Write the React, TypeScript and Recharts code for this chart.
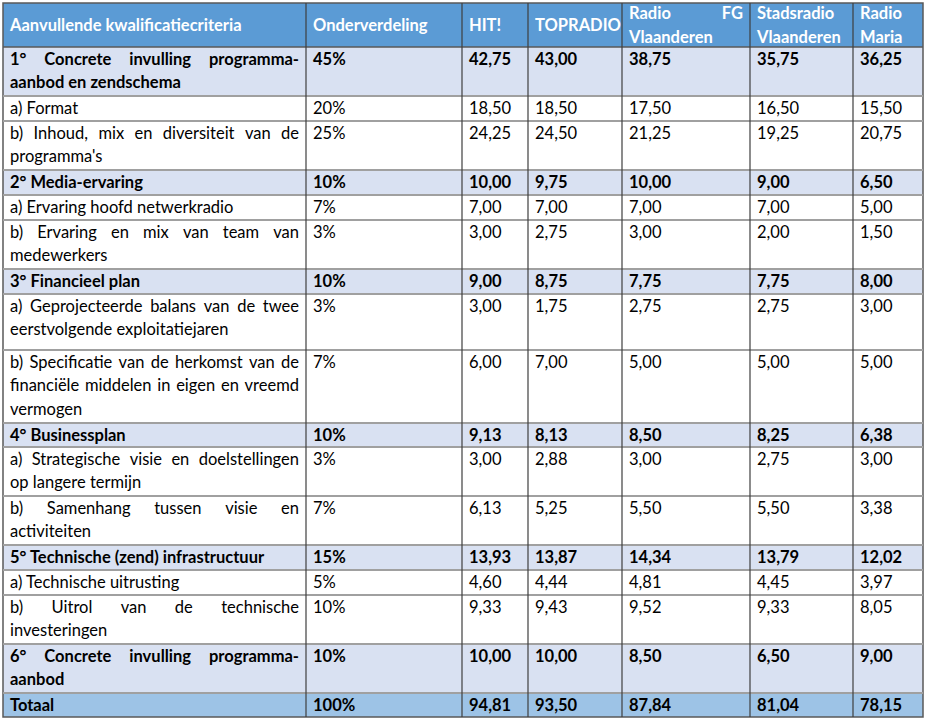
import { ComposedChart, XAxis, YAxis, ReferenceArea, ReferenceLine } from "recharts";

const headers = [
  "Aanvullende kwalificatiecriteria",
  "Onderverdeling",
  "HIT!",
  "TOPRADIO",
  "Radio FG\nVlaanderen",
  "Stadsradio\nVlaanderen",
  "Radio\nMaria",
];

const criteria = [
  "1° Concrete invulling programma-\naanbod en zendschema",
  "a) Format",
  "b) Inhoud, mix en diversiteit van de\nprogramma's",
  "2° Media-ervaring",
  "a) Ervaring hoofd netwerkradio",
  "b) Ervaring en mix van team van\nmedewerkers",
  "3° Financieel plan",
  "a) Geprojecteerde balans van de twee\neerstvolgende exploitatiejaren",
  "b) Specificatie van de herkomst van de\nfinanciële middelen in eigen en vreemd\nvermogen",
  "4° Businessplan",
  "a) Strategische visie en doelstellingen\nop langere termijn",
  "b) Samenhang tussen visie en\nactiviteiten",
  "5° Technische (zend) infrastructuur",
  "a) Technische uitrusting",
  "b) Uitrol van de technische\ninvesteringen",
  "6° Concrete invulling programma-\naanbod",
  "Totaal",
];

const levels = [
  "section", "item", "item",
  "section", "item", "item",
  "section", "item", "item",
  "section", "item", "item",
  "section", "item", "item",
  "section",
  "total",
];

const weights = ["45%", "20%", "25%", "10%", "7%", "3%", "10%", "3%", "7%", "10%", "3%", "7%", "15%", "5%", "10%", "10%", "100%"];

const hit = [42.75, 18.5, 24.25, 10.0, 7.0, 3.0, 9.0, 3.0, 6.0, 9.13, 3.0, 6.13, 13.93, 4.6, 9.33, 10.0, 94.81];
const topradio = [43.0, 18.5, 24.5, 9.75, 7.0, 2.75, 8.75, 1.75, 7.0, 8.13, 2.88, 5.25, 13.87, 4.44, 9.43, 10.0, 93.5];
const radioFG = [38.75, 17.5, 21.25, 10.0, 7.0, 3.0, 7.75, 2.75, 5.0, 8.5, 3.0, 5.5, 14.34, 4.81, 9.52, 8.5, 87.84];
const stadsradio = [35.75, 16.5, 19.25, 9.0, 7.0, 2.0, 7.75, 2.75, 5.0, 8.25, 2.75, 5.5, 13.79, 4.45, 9.33, 6.5, 81.04];
const radioMaria = [36.25, 15.5, 20.75, 6.5, 5.0, 1.5, 8.0, 3.0, 5.0, 6.38, 3.0, 3.38, 12.02, 3.97, 8.05, 9.0, 78.15];

const stations = [hit, topradio, radioFG, stadsradio, radioMaria];

// layout (pixels)
const COL_W = [303, 156, 66, 94, 128, 103, 70];
const ROW_H = [44, 49, 25, 49, 25, 25, 49, 25, 56, 73, 24, 49, 49, 25, 25, 49, 49, 24];
const W = COL_W.reduce((a, b) => a + b, 0);
const H = ROW_H.reduce((a, b) => a + b, 0);
const FONT = "Lato, 'Open Sans', sans-serif";
const FS = 16.5;
const LINE = 23.5;
const PAD = 7;

const FILLS: Record<string, string> = {
  header: "#5b9bd5",
  section: "#d9e1f2",
  total: "#9dc3e6",
  item: "#ffffff",
};

const cumulative = (arr: number[]) => arr.reduce((acc, v) => [...acc, acc[acc.length - 1] + v], [0]);
const colX = cumulative(COL_W);
const rowY = cumulative(ROW_H);

const fmt = (v: number) => v.toFixed(2).replace(".", ",");

const canvas = typeof document !== "undefined" ? document.createElement("canvas") : null;
const ctx = canvas ? canvas.getContext("2d") : null;
function measure(text: string, font: string) {
  if (!ctx) return text.length * FS * 0.5;
  ctx.font = font;
  return ctx.measureText(text).width;
}

type Cell = {
  key: string;
  x0: number;
  x1: number;
  y0: number;
  y1: number;
  lines: string[];
  bold: boolean;
  color: string;
  fill: string;
  middle: boolean;
  justify: boolean;
};

const cells: Cell[] = [];
headers.forEach((h, c) => {
  cells.push({
    key: `h-${c}`,
    x0: colX[c],
    x1: colX[c + 1],
    y0: rowY[0],
    y1: rowY[1],
    lines: h.split("\n"),
    bold: true,
    color: "#ffffff",
    fill: FILLS.header,
    middle: true,
    justify: true,
  });
});
criteria.forEach((crit, i) => {
  const texts = [crit, weights[i], ...stations.map((s) => fmt(s[i]))];
  texts.forEach((t, c) => {
    cells.push({
      key: `r${i}-${c}`,
      x0: colX[c],
      x1: colX[c + 1],
      y0: rowY[i + 1],
      y1: rowY[i + 2],
      lines: t.split("\n"),
      bold: levels[i] !== "item",
      color: "#000000",
      fill: FILLS[levels[i]],
      middle: false,
      justify: c === 0,
    });
  });
});

function CellShape(props: any) {
  const { x, y, width, height, cell } = props;
  const font = `${cell.bold ? "bold " : ""}${FS}px ${FONT}`;
  const n = cell.lines.length;
  const top = cell.middle ? y + height / 2 - (n * LINE) / 2 : y;
  const avail = width - PAD * 2;
  return (
    <g>
      <rect x={x} y={y} width={width} height={height} fill={cell.fill} />
      {cell.lines.map((line: string, k: number) => {
        const base = top + 17.5 + LINE * k;
        const words = line.split(" ");
        if (cell.justify && k < n - 1 && words.length > 1) {
          const widths = words.map((w) => measure(w, font));
          const gap = (avail - widths.reduce((a, b) => a + b, 0)) / (words.length - 1);
          let cx = x + PAD;
          return (
            <text key={k} y={base} fontFamily={FONT} fontSize={FS} fontWeight={cell.bold ? 700 : 400} fill={cell.color}>
              {words.map((w, j) => {
                const px = cx;
                cx += widths[j] + gap;
                return (
                  <tspan key={j} x={px}>
                    {w}
                  </tspan>
                );
              })}
            </text>
          );
        }
        return (
          <text key={k} x={x + PAD} y={base} fontFamily={FONT} fontSize={FS} fontWeight={cell.bold ? 700 : 400} fill={cell.color}>
            {line}
          </text>
        );
      })}
    </g>
  );
}

export default function App() {
  return (
    <div style={{ position: "absolute", left: 0, top: 0, width: 927, height: 721, background: "#ffffff" }}>
      <ComposedChart
        width={927}
        height={721}
        data={criteria.map((c, i) => ({ i }))}
        margin={{ top: 3, left: 3, right: 4, bottom: 4 }}
      >
        <XAxis type="number" dataKey="i" domain={[0, W]} hide allowDataOverflow />
        <YAxis type="number" domain={[0, H]} reversed hide allowDataOverflow />
        {cells.map((cell) => (
          <ReferenceArea
            key={cell.key}
            x1={cell.x0}
            x2={cell.x1}
            y1={cell.y0}
            y2={cell.y1}
            ifOverflow="visible"
            shape={(p: any) => <CellShape {...p} cell={cell} />}
          />
        ))}
        {rowY.slice(1, -1).map((y, k) => (
          <ReferenceLine
            key={`hl-${k}`}
            y={y}
            ifOverflow="visible"
            stroke={k === 0 ? "#595959" : "#a0a0a0"}
            strokeWidth={k === 0 ? 1.5 : 2}
          />
        ))}
        {colX.slice(1, -1).map((x, k) => (
          <ReferenceLine key={`vl-${k}`} x={x} ifOverflow="visible" stroke="#3f3f3f" strokeWidth={1.2} />
        ))}
        <ReferenceArea
          x1={0}
          x2={W}
          y1={0}
          y2={H}
          ifOverflow="visible"
          fill="none"
          fillOpacity={0}
          stroke="#595959"
          strokeWidth={1.5}
        />
      </ComposedChart>
    </div>
  );
}
